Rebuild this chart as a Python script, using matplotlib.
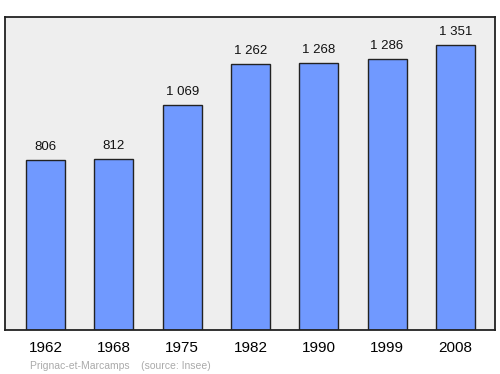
import matplotlib
matplotlib.use("Agg")
import matplotlib.pyplot as plt

years = ["1962", "1968", "1975", "1982", "1990", "1999", "2008"]
population = [806, 812, 1069, 1262, 1268, 1286, 1351]
value_labels = ["806", "812", "1 069", "1 262", "1 268", "1 286", "1 351"]

plt.rcParams['font.family'] = ['Liberation Sans', 'DejaVu Sans']

fig = plt.figure(figsize=(5, 3.74), dpi=100)
ax = fig.add_axes([0.01, 0.1176, 0.98, 0.837])
ax.set_facecolor('#eeeeee')
x = list(range(len(years)))
ax.bar(x, population, width=0.57, color='#7099ff', edgecolor='#222222', linewidth=1.0, zorder=2)
for xi, v, lab in zip(x, population, value_labels):
    ax.annotate(lab, (xi, v), xytext=(0, 5), textcoords='offset points',
                ha='center', va='bottom', fontsize=9.5, color='#111111')
ax.set_xlim(-0.593, 6.58)
ax.set_ylim(0, 1484)
ax.set_xticks(x)
ax.set_xticklabels(years, fontsize=11)
ax.tick_params(axis='x', length=0, pad=8)
ax.set_yticks([])
for s in ax.spines.values():
    s.set_linewidth(1.3)
    s.set_color('#222222')
fig.text(0.06, 0.008, "Prignac-et-Marcamps    (source: Insee)", fontsize=7.5, color='#aaaaaa', ha='left', va='bottom')
fig.savefig("out.png", dpi=100)
